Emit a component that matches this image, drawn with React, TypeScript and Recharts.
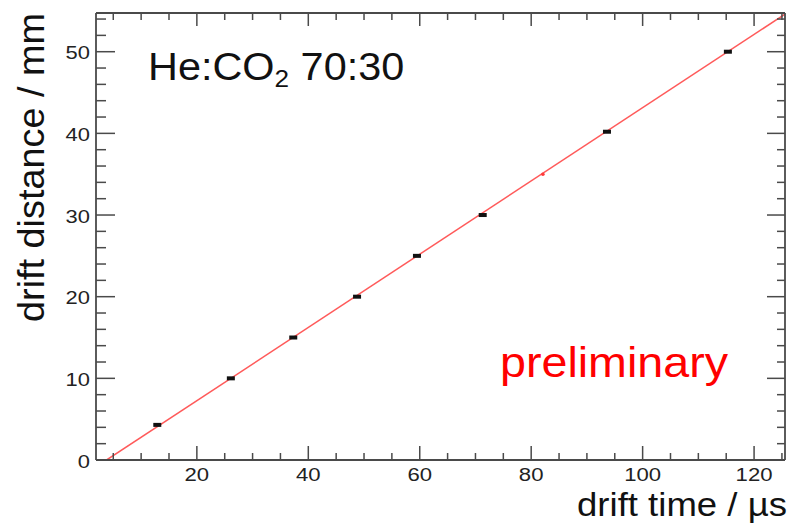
import { ComposedChart, XAxis, YAxis, Scatter, Line } from "recharts";

// measured points (drift time in µs, drift distance in mm)
const driftTime = [12.9, 26.1, 37.3, 48.75, 59.5, 71.3, 93.6, 115.3];
const driftDistance = [4.3, 10.0, 15.0, 20.0, 25.0, 30.0, 40.2, 50.0];

// linear fit, read at both ends of the frame
const fitTime = [3.8, 125.55];
const fitDistance = [0, 54.6];

// single red marker sitting on the fit line
const redTime = [82.1];
const redDistance = [35.0];

const xTicks = [5, 10, 15, 20, 25, 30, 35, 40, 45, 50, 55, 60, 65, 70, 75, 80, 85, 90, 95, 100, 105, 110, 115, 120, 125];
const xMajor = [20, 40, 60, 80, 100, 120];
const yTicks = [0, 2, 4, 6, 8, 10, 12, 14, 16, 18, 20, 22, 24, 26, 28, 30, 32, 34, 36, 38, 40, 42, 44, 46, 48, 50, 52, 54];
const yMajor = [0, 10, 20, 30, 40, 50];

const points = driftTime.map((t, i) => ({ x: t, y: driftDistance[i] }));
const fit = fitTime.map((t, i) => ({ x: t, y: fitDistance[i] }));
const red = redTime.map((t, i) => ({ x: t, y: redDistance[i] }));

const frame = "#4a4a4a";
const font = "'Liberation Sans', Arial, Helvetica, sans-serif";

const BottomTick = (props: any) => {
  const { x, y, payload } = props;
  const v = payload.value;
  const major = xMajor.includes(v);
  return (
    <g>
      <line x1={x} x2={x} y1={y} y2={y - (major ? 14 : 7)} stroke={frame} strokeWidth={1.5} />
      {major && (
        <text x={x} y={y + 21} textAnchor="middle" fontSize={18} fill="#222" fontFamily={font}
          textLength={String(v).length * 12.3} lengthAdjust="spacingAndGlyphs">
          {v}
        </text>
      )}
    </g>
  );
};

const TopTick = (props: any) => {
  const { x, y, payload } = props;
  const major = xMajor.includes(payload.value);
  return <line x1={x} x2={x} y1={y} y2={y + (major ? 13 : 7)} stroke={frame} strokeWidth={1.5} />;
};

const LeftTick = (props: any) => {
  const { x, y, payload } = props;
  const v = payload.value;
  const major = yMajor.includes(v);
  return (
    <g>
      <line x1={x} x2={x + (major ? 19 : 10)} y1={y} y2={y} stroke={frame} strokeWidth={1.5} />
      {major && (
        <text x={x - 6} y={y + 7.5} textAnchor="end" fontSize={18} fill="#222" fontFamily={font}
          textLength={String(v).length * 12.2} lengthAdjust="spacingAndGlyphs">
          {v}
        </text>
      )}
    </g>
  );
};

const RightTick = (props: any) => {
  const { x, y, payload } = props;
  const major = yMajor.includes(payload.value);
  return <line x1={x} x2={x - (major ? 18 : 8)} y1={y} y2={y} stroke={frame} strokeWidth={1.5} />;
};

const PointMark = (p: any) => (
  <rect x={p.cx - 4} y={p.cy - 2} width={8} height={4} fill="#111" />
);

const RedMark = (p: any) => <circle cx={p.cx} cy={p.cy} r={1.8} fill="#ff3b3b" />;

export default function App() {
  return (
    <div style={{ position: "absolute", left: 0, top: 0, background: "#fff" }}>
      <ComposedChart width={792} height={525} margin={{ top: 0, right: 0, bottom: 0, left: 0 }}>
        <XAxis xAxisId="b" dataKey="x" type="number" orientation="bottom" height={65}
          domain={[1.9, 125.55]} allowDataOverflow ticks={xTicks} interval={0}
          tickSize={0} tickMargin={0} tickLine={false} tick={<BottomTick />}
          axisLine={{ stroke: frame, strokeWidth: 1.8 }} />
        <XAxis xAxisId="t" dataKey="x" type="number" orientation="top" height={13}
          domain={[1.9, 125.55]} allowDataOverflow ticks={xTicks} interval={0}
          tickSize={0} tickMargin={0} tickLine={false} tick={<TopTick />}
          axisLine={{ stroke: frame, strokeWidth: 1.8 }} />
        <YAxis yAxisId="l" type="number" orientation="left" width={96}
          domain={[0, 54.74]} allowDataOverflow ticks={yTicks} interval={0}
          tickSize={0} tickMargin={0} tickLine={false} tick={<LeftTick />}
          axisLine={{ stroke: frame, strokeWidth: 1.8 }} />
        <YAxis yAxisId="r" type="number" orientation="right" width={7}
          domain={[0, 54.74]} allowDataOverflow ticks={yTicks} interval={0}
          tickSize={0} tickMargin={0} tickLine={false} tick={<RightTick />}
          axisLine={{ stroke: frame, strokeWidth: 1.8 }} />

        <Line xAxisId="b" yAxisId="l" data={fit} dataKey="y" type="linear"
          stroke="#ff5a5a" strokeWidth={1.5} dot={false} isAnimationActive={false} />
        <Scatter xAxisId="b" yAxisId="l" data={points} dataKey="y" shape={PointMark} isAnimationActive={false} />
        <Scatter xAxisId="t" yAxisId="r" data={red} dataKey="y" shape={RedMark} isAnimationActive={false} />

        <g transform="translate(148,80) scale(1.09,1)">
          <text x={0} y={0} fontSize={38} fill="#111" fontFamily={font}>
            He:CO<tspan fontSize={24} dy={7}>2</tspan><tspan fontSize={38} dy={-7}> 70:30</tspan>
          </text>
        </g>
        <text x={500} y={377} fontSize={42} fill="#ff0000" fontFamily={font}
          textLength={228} lengthAdjust="spacingAndGlyphs">preliminary</text>
        <text x={787} y={516} textAnchor="end" fontSize={33} fill="#111" fontFamily={font}
          textLength={210} lengthAdjust="spacingAndGlyphs">drift time / µs</text>
        <text transform="translate(44,13) rotate(-90)" textAnchor="end" fontSize={37} fill="#111" fontFamily={font}
          textLength={309} lengthAdjust="spacingAndGlyphs">drift distance / mm</text>
      </ComposedChart>
    </div>
  );
}
